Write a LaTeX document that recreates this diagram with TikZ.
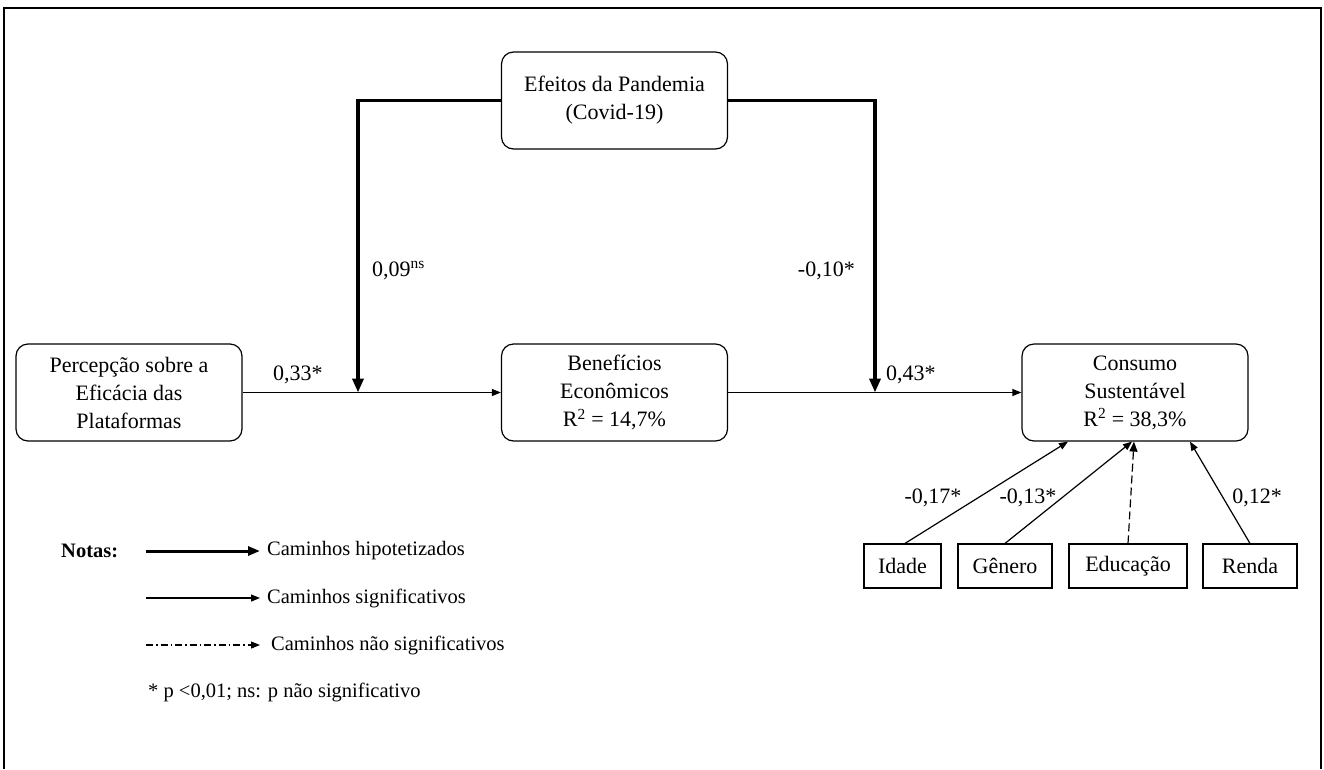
\documentclass[tikz,border=0pt]{standalone}
\usepackage{fontspec}
\setmainfont{Liberation Serif}
\usetikzlibrary{arrows.meta,calc}
\begin{document}
\begin{tikzpicture}[x=1pt,y=-1pt,
  box/.style={draw, line width=1.2pt, rounded corners=12pt, minimum width=226pt, minimum height=97pt, inner sep=0pt, align=center, font=\fontsize{22}{28}\selectfont},
  ctrl/.style={draw, line width=1.2pt, minimum height=44pt, inner sep=0pt, font=\fontsize{22}{28}\selectfont},
  lbl/.style={inner sep=0pt, font=\fontsize{22}{26}\selectfont},
  legtext/.style={inner sep=0pt, anchor=west, font=\fontsize{20.5}{24}\selectfont},
  sigpath/.style={line width=1.2pt, -{Triangle[length=9pt,width=7pt]}},
  hyppath/.style={line width=3.5pt, -{Triangle[length=14pt,width=11pt]}},
  nspath/.style={line width=1.2pt, dash pattern=on 8pt off 4pt, -{Triangle[length=10pt,width=8pt]}},
  legns/.style={line width=1.2pt, dash pattern=on 7pt off 3pt on 1.5pt off 3pt, -{Triangle[length=9pt,width=7pt]}}
]
\useasboundingbox (0,0) rectangle (1324,769);
% frame
\draw[line width=1.6pt] (4,769) -- (4,8) -- (1321,8) -- (1321,769);

% main boxes
\node[box] (pand) at (614.5,100.5) {Efeitos da Pandemia\\(Covid-19)};
\node[box] (perc) at (129,392.5) {Percepção sobre a\\Eficácia das\\Plataformas};
\node[box] (ben) at (614.5,392.5) {Benefícios\\Econômicos\\R\textsuperscript{2} = 14,7\%};
\node[box] (cons) at (1135,392.5) {Consumo\\Sustentável\\R\textsuperscript{2} = 38,3\%};

% control boxes
\node[ctrl, minimum width=77pt] (idade) at (902.5,566) {Idade};
\node[ctrl, minimum width=94pt] (genero) at (1005,566) {Gênero};
\node[ctrl, minimum width=118pt] (educ) at (1128,566) {Educação};
\node[ctrl, minimum width=94pt] (renda) at (1250,566) {Renda};

% main paths
\draw[sigpath] (perc.east) -- (ben.west);
\draw[sigpath] (ben.east) -- (cons.west);
\coordinate (j1) at (358,392.5);
\coordinate (j2) at (875,392.5);
\draw[hyppath] (pand.west) -| (j1);
\draw[hyppath] (pand.east) -| (j2);

% control paths
\draw[sigpath] ([xshift=2.5pt]idade.north) -- ([xshift=-67pt]cons.south);
\draw[sigpath] (genero.north) -- ([xshift=-3pt]cons.south);
\draw[nspath] (educ.north) -- ([xshift=-1pt]cons.south);
\draw[sigpath] (renda.north) -- ([xshift=55pt]cons.south);

% labels
\node[lbl, anchor=base west] (l09) at (372,276) {0,09\textsuperscript{ns}};
\node[lbl, anchor=base east] (l10) at (855,276) {-0,10*};
\node[lbl, anchor=base west] (l33) at (273,380) {0,33*};
\node[lbl, anchor=base west] (l43) at (886,380) {0,43*};
\node[lbl, anchor=base] (l17) at (933,503) {-0,17*};
\node[lbl, anchor=base] (l13) at (1028,503) {-0,13*};
\node[lbl, anchor=base] (l12) at (1257,503) {0,12*};

% legend
\node[inner sep=0pt, anchor=west, font=\bfseries\fontsize{20.5}{24}\selectfont] (notas) at (61,551) {Notas:};
\coordinate (a1) at (146,551); \coordinate (b1) at (260,551);
\draw[line width=3pt, -{Triangle[length=12pt,width=9pt]}] (a1) -- (b1);
\node[legtext] (t1) at (267,551) {Caminhos hipotetizados};
\coordinate (a2) at (146,598); \coordinate (b2) at (260,598);
\draw[sigpath] (a2) -- (b2);
\node[legtext] (t2) at (267,598) {Caminhos significativos};
\coordinate (a3) at (146,645); \coordinate (b3) at (260,645);
\draw[legns] (a3) -- (b3);
\node[legtext] (t3) at (271,645) {Caminhos não significativos};
\node[legtext] (t4) at (148,692) {* p <0,01; ns: p não significativo};
\end{tikzpicture}
\end{document}
